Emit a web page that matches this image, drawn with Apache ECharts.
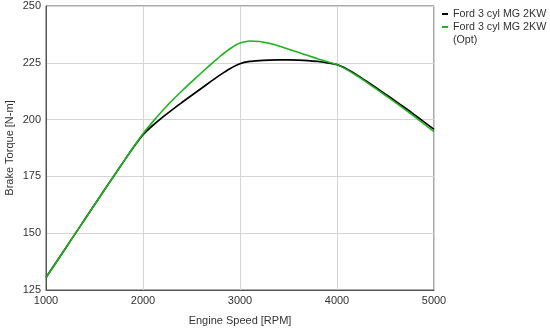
<!DOCTYPE html>
<html><head><meta charset="utf-8">
<script src="https://cdn.jsdelivr.net/npm/echarts@6/dist/echarts.min.js"></script>
<style>html,body{margin:0;padding:0;background:#fff}#c{width:550px;height:329px}</style>
</head><body><div id="c"></div>
<script>
const rpm = [1000,1100,1200,1300,1400,1500,1600,1700,1800,1900,2000,2100,2200,2300,2400,2500,2600,2700,2800,2900,3000,3100,3200,3300,3400,3500,3600,3700,3800,3900,4000,4100,4200,4300,4400,4500,4600,4700,4800,4900,5000];
const torqueBase = [130.5,136.9,143.3,149.7,156.1,162.5,168.9,175.2,181.5,187.7,193.4,197.4,201.0,204.3,207.5,210.6,213.7,216.8,219.8,222.5,224.6,225.6,226.0,226.2,226.3,226.3,226.2,226.0,225.6,225.0,224.2,222.3,219.8,217.0,214.1,211.2,208.2,205.2,202.1,198.9,195.7];
const torqueOpt  = [130.5,136.9,143.3,149.7,156.1,162.5,168.9,175.2,181.5,187.8,193.8,199.0,203.9,208.4,212.6,216.6,220.5,224.3,228.0,231.3,233.7,234.6,234.4,233.6,232.4,231.0,229.6,228.2,226.8,225.5,224.2,222.0,219.4,216.6,213.6,210.6,207.6,204.5,201.3,198.0,194.7];
const seriesNames = ['Ford 3 cyl MG 2KW','Ford 3 cyl MG 2KW (Opt)'];
const yTicks = [125,150,175,200,225,250];
const xTicks = [1000,2000,3000,4000,5000];

const font = 'Liberation Sans, Arial, sans-serif';
const chart = echarts.init(document.getElementById('c'));
const pair = (xs, ys) => xs.map((x,i)=>[x, ys[i]]);
chart.setOption({
  animation:false,
  textStyle:{fontFamily:font},
  grid:{left:46,top:6,right:116,bottom:39,show:true,borderColor:'#555',borderWidth:1,
        backgroundColor:'transparent',containLabel:false,outerBoundsMode:'none'},
  legend:[{
    data:[seriesNames[0]], left:442, top:7.5, orient:'vertical', padding:0,
    itemWidth:6, itemHeight:2, icon:'rect',
    textStyle:{fontFamily:font,fontSize:10.7,color:'#333',lineHeight:13}
  },{
    data:[seriesNames[1]], left:442, top:7.5, orient:'vertical', padding:0,
    formatter:()=> '\nFord 3 cyl MG 2KW\n(Opt)',
    itemWidth:6, itemHeight:2, icon:'rect',
    textStyle:{fontFamily:font,fontSize:10.7,color:'#333',lineHeight:13}
  }],
  xAxis:{
    type:'value', min:xTicks[0], max:xTicks[xTicks.length-1], interval:1000,
    name:'Engine Speed [RPM]', nameLocation:'middle', nameGap:25, nameMoveOverlap:false,
    nameTextStyle:{fontFamily:font,fontSize:11,color:'#333'},
    axisLine:{show:true,lineStyle:{color:'#555'}}, axisTick:{show:false},
    axisLabel:{fontFamily:font,fontSize:11,color:'#333',margin:5,formatter:v=>String(v)},
    splitLine:{show:true,lineStyle:{color:'#d4d4d4'}}
  },
  yAxis:{
    type:'value', min:yTicks[0], max:yTicks[yTicks.length-1], interval:25,
    name:'Brake Torque [N-m]', nameLocation:'middle', nameGap:31, nameMoveOverlap:false,
    nameTextStyle:{fontFamily:font,fontSize:11,color:'#333'},
    axisLine:{show:true,lineStyle:{color:'#555'}}, axisTick:{show:false},
    axisLabel:{fontFamily:font,fontSize:11,color:'#333',margin:5,formatter:v=>String(v)},
    splitLine:{show:true,lineStyle:{color:'#d4d4d4'}}
  },
  series:[{
    name:seriesNames[0], type:'line', data:pair(rpm,torqueBase), smooth:0.15, symbol:'none',
    lineStyle:{color:'#000',width:1.7}, itemStyle:{color:'#000'}
  },{
    name:seriesNames[1], type:'line', data:pair(rpm,torqueOpt), smooth:0.15, symbol:'none',
    lineStyle:{color:'#1db41d',width:1.6}, itemStyle:{color:'#1db41d'}
  }]
});
</script></body></html>
